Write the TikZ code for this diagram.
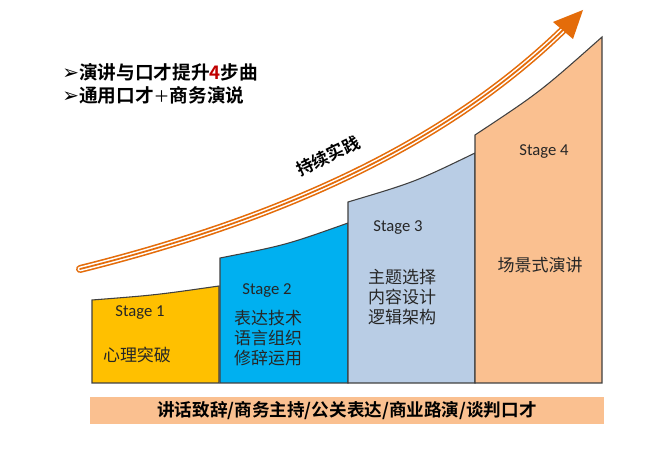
\documentclass[tikz,border=0pt]{standalone}
\usepackage{fontspec}
\setmainfont{Carlito}
\newfontfamily\cjk{Noto Sans CJK SC}
\newfontfamily\cjkb{Noto Sans CJK SC Bold}
\newfontfamily\dejavu{DejaVu Sans}
\definecolor{sone}{HTML}{FFC000}
\definecolor{stwo}{HTML}{00B0F0}
\definecolor{sthree}{HTML}{B9CDE5}
\definecolor{sfour}{HTML}{FAC090}
\definecolor{arr}{HTML}{E46C0A}
\definecolor{redfour}{HTML}{C00000}
\definecolor{edge}{HTML}{404040}
\begin{document}
\begin{tikzpicture}[x=0.75pt,y=-0.75pt,
  stagebox/.style={draw=edge,line width=0.8pt},
  stagelabel/.style={font=\fontsize{12.5}{14}\selectfont,text=black!85},
  stagetext/.style={font=\cjk\fontsize{12.75}{15}\selectfont,align=center,text=black!85,inner sep=0pt},
  titletext/.style={anchor=west,inner sep=0pt,font=\cjkb\fontsize{14}{17}\selectfont}]
\useasboundingbox (0,0) rectangle (665,456);
\fill[white] (0,0) rectangle (665,456);

% stage boxes
\path[stagebox,fill=sone] (92,383) -- (92,300) .. controls (156,295) .. (219,286) -- (219,383) -- cycle;
\path[stagebox,fill=stwo] (220,383) -- (220,258) .. controls (286,245) .. (348,223) -- (348,383) -- cycle;
\path[stagebox,fill=sthree] (348,383) -- (348,202) .. controls (415,182) .. (475,153) -- (475,383) -- cycle;
\path[stagebox,fill=sfour] (475,383) -- (475,135) .. controls (540,92) .. (602,37) -- (602,383) -- cycle;

% stage labels
\node[stagelabel] (l1) at (140,313) {Stage 1};
\node[stagetext] (t1) at (137,355) {心理突破};
\node[stagelabel] (l2) at (267,291) {Stage 2};
\node[stagetext] (t2) at (268,338) {表达技术\\语言组织\\修辞运用};
\node[stagelabel] (l3) at (398,228) {Stage 3};
\node[stagetext] (t3) at (402,297) {主题选择\\内容设计\\逻辑架构};
\node[stagelabel] (l4) at (544,152) {Stage 4};
\node[stagetext] (t4) at (540,265) {场景式演讲};

% bottom bar
\fill[sfour] (90,397) rectangle (604,424);
\node[font=\cjkb\fontsize{13.2}{15}\selectfont,inner sep=0pt] (bar) at (347,410.5) {讲话致辞/商务主持/公关表达/商业路演/谈判口才};

% title
\node[titletext] (ti1) at (62,72) {{\dejavu\fontsize{15}{17}\selectfont ➢}演讲与口才提升\textcolor{redfour}{4}步曲};
\node[titletext] (ti2) at (62,95) {{\dejavu\fontsize{15}{17}\selectfont ➢}通用口才{\cjk\fontsize{12}{14}\selectfont ＋}商务演说};

% growth arrow
\coordinate (a0) at (80,269);
\coordinate (a1) at (563,30);
\draw[arr,line width=6pt,line cap=round] (a0) .. controls (280,219) and (443,146) .. (a1);
\draw[white,line width=3.6pt,line cap=round] (a0) .. controls (280,219) and (443,146) .. (a1);
\draw[arr,line width=1.3pt,line cap=round] (a0) .. controls (280,219) and (443,146) .. (a1);
\fill[arr] (583,10) -- (553,22) -- (573,39) -- cycle;

\node[font=\cjkb\fontsize{12.75}{15}\selectfont,rotate=26,inner sep=0pt] (prac) at (328,156) {持续实践};
\end{tikzpicture}
\end{document}
